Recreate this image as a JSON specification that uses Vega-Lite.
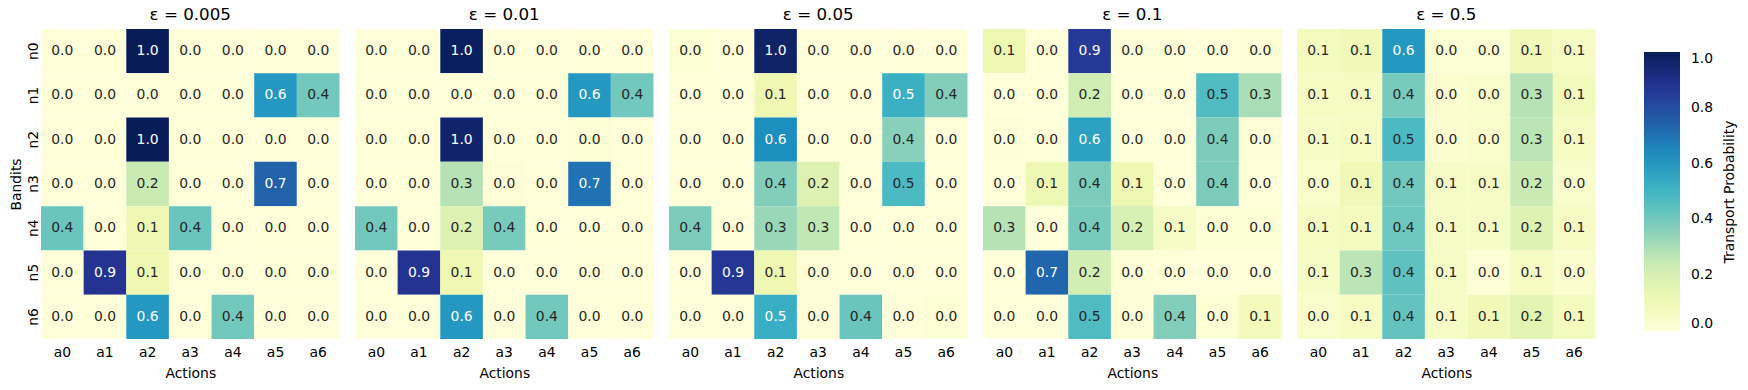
{
"$schema": "https://vega.github.io/schema/vega-lite/v6.json",
"background": "white",
"padding": {"left": 9, "top": 7, "right": 5, "bottom": 5},
"config": {"font": "DejaVu Sans", "view": {"stroke": null}},
"data": {"values": [
{"eps":"ε = 0.005","bandit":"n0","action":"a0","p":0},{"eps":"ε = 0.005","bandit":"n0","action":"a1","p":0},{"eps":"ε = 0.005","bandit":"n0","action":"a2","p":1.0},{"eps":"ε = 0.005","bandit":"n0","action":"a3","p":0},{"eps":"ε = 0.005","bandit":"n0","action":"a4","p":0},{"eps":"ε = 0.005","bandit":"n0","action":"a5","p":0},{"eps":"ε = 0.005","bandit":"n0","action":"a6","p":0},
{"eps":"ε = 0.005","bandit":"n1","action":"a0","p":0},{"eps":"ε = 0.005","bandit":"n1","action":"a1","p":0},{"eps":"ε = 0.005","bandit":"n1","action":"a2","p":0},{"eps":"ε = 0.005","bandit":"n1","action":"a3","p":0},{"eps":"ε = 0.005","bandit":"n1","action":"a4","p":0},{"eps":"ε = 0.005","bandit":"n1","action":"a5","p":0.6},{"eps":"ε = 0.005","bandit":"n1","action":"a6","p":0.4},
{"eps":"ε = 0.005","bandit":"n2","action":"a0","p":0},{"eps":"ε = 0.005","bandit":"n2","action":"a1","p":0},{"eps":"ε = 0.005","bandit":"n2","action":"a2","p":1.0},{"eps":"ε = 0.005","bandit":"n2","action":"a3","p":0},{"eps":"ε = 0.005","bandit":"n2","action":"a4","p":0},{"eps":"ε = 0.005","bandit":"n2","action":"a5","p":0},{"eps":"ε = 0.005","bandit":"n2","action":"a6","p":0},
{"eps":"ε = 0.005","bandit":"n3","action":"a0","p":0},{"eps":"ε = 0.005","bandit":"n3","action":"a1","p":0},{"eps":"ε = 0.005","bandit":"n3","action":"a2","p":0.24},{"eps":"ε = 0.005","bandit":"n3","action":"a3","p":0},{"eps":"ε = 0.005","bandit":"n3","action":"a4","p":0},{"eps":"ε = 0.005","bandit":"n3","action":"a5","p":0.74},{"eps":"ε = 0.005","bandit":"n3","action":"a6","p":0},
{"eps":"ε = 0.005","bandit":"n4","action":"a0","p":0.42},{"eps":"ε = 0.005","bandit":"n4","action":"a1","p":0},{"eps":"ε = 0.005","bandit":"n4","action":"a2","p":0.12},{"eps":"ε = 0.005","bandit":"n4","action":"a3","p":0.42},{"eps":"ε = 0.005","bandit":"n4","action":"a4","p":0},{"eps":"ε = 0.005","bandit":"n4","action":"a5","p":0},{"eps":"ε = 0.005","bandit":"n4","action":"a6","p":0},
{"eps":"ε = 0.005","bandit":"n5","action":"a0","p":0},{"eps":"ε = 0.005","bandit":"n5","action":"a1","p":0.88},{"eps":"ε = 0.005","bandit":"n5","action":"a2","p":0.12},{"eps":"ε = 0.005","bandit":"n5","action":"a3","p":0},{"eps":"ε = 0.005","bandit":"n5","action":"a4","p":0},{"eps":"ε = 0.005","bandit":"n5","action":"a5","p":0},{"eps":"ε = 0.005","bandit":"n5","action":"a6","p":0},
{"eps":"ε = 0.005","bandit":"n6","action":"a0","p":0},{"eps":"ε = 0.005","bandit":"n6","action":"a1","p":0},{"eps":"ε = 0.005","bandit":"n6","action":"a2","p":0.6},{"eps":"ε = 0.005","bandit":"n6","action":"a3","p":0},{"eps":"ε = 0.005","bandit":"n6","action":"a4","p":0.4},{"eps":"ε = 0.005","bandit":"n6","action":"a5","p":0},{"eps":"ε = 0.005","bandit":"n6","action":"a6","p":0},

{"eps":"ε = 0.01","bandit":"n0","action":"a0","p":0},{"eps":"ε = 0.01","bandit":"n0","action":"a1","p":0},{"eps":"ε = 0.01","bandit":"n0","action":"a2","p":0.99},{"eps":"ε = 0.01","bandit":"n0","action":"a3","p":0},{"eps":"ε = 0.01","bandit":"n0","action":"a4","p":0},{"eps":"ε = 0.01","bandit":"n0","action":"a5","p":0},{"eps":"ε = 0.01","bandit":"n0","action":"a6","p":0},
{"eps":"ε = 0.01","bandit":"n1","action":"a0","p":0},{"eps":"ε = 0.01","bandit":"n1","action":"a1","p":0},{"eps":"ε = 0.01","bandit":"n1","action":"a2","p":0},{"eps":"ε = 0.01","bandit":"n1","action":"a3","p":0},{"eps":"ε = 0.01","bandit":"n1","action":"a4","p":0},{"eps":"ε = 0.01","bandit":"n1","action":"a5","p":0.6},{"eps":"ε = 0.01","bandit":"n1","action":"a6","p":0.4},
{"eps":"ε = 0.01","bandit":"n2","action":"a0","p":0},{"eps":"ε = 0.01","bandit":"n2","action":"a1","p":0},{"eps":"ε = 0.01","bandit":"n2","action":"a2","p":0.96},{"eps":"ε = 0.01","bandit":"n2","action":"a3","p":0},{"eps":"ε = 0.01","bandit":"n2","action":"a4","p":0},{"eps":"ε = 0.01","bandit":"n2","action":"a5","p":0.02},{"eps":"ε = 0.01","bandit":"n2","action":"a6","p":0},
{"eps":"ε = 0.01","bandit":"n3","action":"a0","p":0},{"eps":"ε = 0.01","bandit":"n3","action":"a1","p":0},{"eps":"ε = 0.01","bandit":"n3","action":"a2","p":0.28},{"eps":"ε = 0.01","bandit":"n3","action":"a3","p":0.01},{"eps":"ε = 0.01","bandit":"n3","action":"a4","p":0},{"eps":"ε = 0.01","bandit":"n3","action":"a5","p":0.7},{"eps":"ε = 0.01","bandit":"n3","action":"a6","p":0},
{"eps":"ε = 0.01","bandit":"n4","action":"a0","p":0.4},{"eps":"ε = 0.01","bandit":"n4","action":"a1","p":0},{"eps":"ε = 0.01","bandit":"n4","action":"a2","p":0.18},{"eps":"ε = 0.01","bandit":"n4","action":"a3","p":0.39},{"eps":"ε = 0.01","bandit":"n4","action":"a4","p":0},{"eps":"ε = 0.01","bandit":"n4","action":"a5","p":0},{"eps":"ε = 0.01","bandit":"n4","action":"a6","p":0},
{"eps":"ε = 0.01","bandit":"n5","action":"a0","p":0},{"eps":"ε = 0.01","bandit":"n5","action":"a1","p":0.88},{"eps":"ε = 0.01","bandit":"n5","action":"a2","p":0.12},{"eps":"ε = 0.01","bandit":"n5","action":"a3","p":0},{"eps":"ε = 0.01","bandit":"n5","action":"a4","p":0},{"eps":"ε = 0.01","bandit":"n5","action":"a5","p":0},{"eps":"ε = 0.01","bandit":"n5","action":"a6","p":0},
{"eps":"ε = 0.01","bandit":"n6","action":"a0","p":0},{"eps":"ε = 0.01","bandit":"n6","action":"a1","p":0},{"eps":"ε = 0.01","bandit":"n6","action":"a2","p":0.6},{"eps":"ε = 0.01","bandit":"n6","action":"a3","p":0},{"eps":"ε = 0.01","bandit":"n6","action":"a4","p":0.4},{"eps":"ε = 0.01","bandit":"n6","action":"a5","p":0},{"eps":"ε = 0.01","bandit":"n6","action":"a6","p":0},

{"eps":"ε = 0.05","bandit":"n0","action":"a0","p":0.02},{"eps":"ε = 0.05","bandit":"n0","action":"a1","p":0},{"eps":"ε = 0.05","bandit":"n0","action":"a2","p":0.97},{"eps":"ε = 0.05","bandit":"n0","action":"a3","p":0},{"eps":"ε = 0.05","bandit":"n0","action":"a4","p":0},{"eps":"ε = 0.05","bandit":"n0","action":"a5","p":0},{"eps":"ε = 0.05","bandit":"n0","action":"a6","p":0},
{"eps":"ε = 0.05","bandit":"n1","action":"a0","p":0},{"eps":"ε = 0.05","bandit":"n1","action":"a1","p":0},{"eps":"ε = 0.05","bandit":"n1","action":"a2","p":0.12},{"eps":"ε = 0.05","bandit":"n1","action":"a3","p":0},{"eps":"ε = 0.05","bandit":"n1","action":"a4","p":0},{"eps":"ε = 0.05","bandit":"n1","action":"a5","p":0.52},{"eps":"ε = 0.05","bandit":"n1","action":"a6","p":0.37},
{"eps":"ε = 0.05","bandit":"n2","action":"a0","p":0},{"eps":"ε = 0.05","bandit":"n2","action":"a1","p":0},{"eps":"ε = 0.05","bandit":"n2","action":"a2","p":0.63},{"eps":"ε = 0.05","bandit":"n2","action":"a3","p":0},{"eps":"ε = 0.05","bandit":"n2","action":"a4","p":0},{"eps":"ε = 0.05","bandit":"n2","action":"a5","p":0.36},{"eps":"ε = 0.05","bandit":"n2","action":"a6","p":0},
{"eps":"ε = 0.05","bandit":"n3","action":"a0","p":0},{"eps":"ε = 0.05","bandit":"n3","action":"a1","p":0},{"eps":"ε = 0.05","bandit":"n3","action":"a2","p":0.37},{"eps":"ε = 0.05","bandit":"n3","action":"a3","p":0.18},{"eps":"ε = 0.05","bandit":"n3","action":"a4","p":0},{"eps":"ε = 0.05","bandit":"n3","action":"a5","p":0.48},{"eps":"ε = 0.05","bandit":"n3","action":"a6","p":0},
{"eps":"ε = 0.05","bandit":"n4","action":"a0","p":0.38},{"eps":"ε = 0.05","bandit":"n4","action":"a1","p":0},{"eps":"ε = 0.05","bandit":"n4","action":"a2","p":0.33},{"eps":"ε = 0.05","bandit":"n4","action":"a3","p":0.26},{"eps":"ε = 0.05","bandit":"n4","action":"a4","p":0},{"eps":"ε = 0.05","bandit":"n4","action":"a5","p":0},{"eps":"ε = 0.05","bandit":"n4","action":"a6","p":0},
{"eps":"ε = 0.05","bandit":"n5","action":"a0","p":0},{"eps":"ε = 0.05","bandit":"n5","action":"a1","p":0.87},{"eps":"ε = 0.05","bandit":"n5","action":"a2","p":0.12},{"eps":"ε = 0.05","bandit":"n5","action":"a3","p":0.01},{"eps":"ε = 0.05","bandit":"n5","action":"a4","p":0},{"eps":"ε = 0.05","bandit":"n5","action":"a5","p":0},{"eps":"ε = 0.05","bandit":"n5","action":"a6","p":0},
{"eps":"ε = 0.05","bandit":"n6","action":"a0","p":0},{"eps":"ε = 0.05","bandit":"n6","action":"a1","p":0},{"eps":"ε = 0.05","bandit":"n6","action":"a2","p":0.53},{"eps":"ε = 0.05","bandit":"n6","action":"a3","p":0.01},{"eps":"ε = 0.05","bandit":"n6","action":"a4","p":0.42},{"eps":"ε = 0.05","bandit":"n6","action":"a5","p":0},{"eps":"ε = 0.05","bandit":"n6","action":"a6","p":0.02},

{"eps":"ε = 0.1","bandit":"n0","action":"a0","p":0.12},{"eps":"ε = 0.1","bandit":"n0","action":"a1","p":0},{"eps":"ε = 0.1","bandit":"n0","action":"a2","p":0.86},{"eps":"ε = 0.1","bandit":"n0","action":"a3","p":0},{"eps":"ε = 0.1","bandit":"n0","action":"a4","p":0},{"eps":"ε = 0.1","bandit":"n0","action":"a5","p":0},{"eps":"ε = 0.1","bandit":"n0","action":"a6","p":0.01},
{"eps":"ε = 0.1","bandit":"n1","action":"a0","p":0},{"eps":"ε = 0.1","bandit":"n1","action":"a1","p":0},{"eps":"ε = 0.1","bandit":"n1","action":"a2","p":0.22},{"eps":"ε = 0.1","bandit":"n1","action":"a3","p":0},{"eps":"ε = 0.1","bandit":"n1","action":"a4","p":0},{"eps":"ε = 0.1","bandit":"n1","action":"a5","p":0.47},{"eps":"ε = 0.1","bandit":"n1","action":"a6","p":0.3},
{"eps":"ε = 0.1","bandit":"n2","action":"a0","p":0.01},{"eps":"ε = 0.1","bandit":"n2","action":"a1","p":0},{"eps":"ε = 0.1","bandit":"n2","action":"a2","p":0.57},{"eps":"ε = 0.1","bandit":"n2","action":"a3","p":0},{"eps":"ε = 0.1","bandit":"n2","action":"a4","p":0},{"eps":"ε = 0.1","bandit":"n2","action":"a5","p":0.38},{"eps":"ε = 0.1","bandit":"n2","action":"a6","p":0.01},
{"eps":"ε = 0.1","bandit":"n3","action":"a0","p":0},{"eps":"ε = 0.1","bandit":"n3","action":"a1","p":0.11},{"eps":"ε = 0.1","bandit":"n3","action":"a2","p":0.38},{"eps":"ε = 0.1","bandit":"n3","action":"a3","p":0.12},{"eps":"ε = 0.1","bandit":"n3","action":"a4","p":0},{"eps":"ε = 0.1","bandit":"n3","action":"a5","p":0.38},{"eps":"ε = 0.1","bandit":"n3","action":"a6","p":0},
{"eps":"ε = 0.1","bandit":"n4","action":"a0","p":0.28},{"eps":"ε = 0.1","bandit":"n4","action":"a1","p":0},{"eps":"ε = 0.1","bandit":"n4","action":"a2","p":0.39},{"eps":"ε = 0.1","bandit":"n4","action":"a3","p":0.2},{"eps":"ε = 0.1","bandit":"n4","action":"a4","p":0.06},{"eps":"ε = 0.1","bandit":"n4","action":"a5","p":0.02},{"eps":"ε = 0.1","bandit":"n4","action":"a6","p":0.02},
{"eps":"ε = 0.1","bandit":"n5","action":"a0","p":0},{"eps":"ε = 0.1","bandit":"n5","action":"a1","p":0.73},{"eps":"ε = 0.1","bandit":"n5","action":"a2","p":0.21},{"eps":"ε = 0.1","bandit":"n5","action":"a3","p":0.01},{"eps":"ε = 0.1","bandit":"n5","action":"a4","p":0},{"eps":"ε = 0.1","bandit":"n5","action":"a5","p":0},{"eps":"ε = 0.1","bandit":"n5","action":"a6","p":0},
{"eps":"ε = 0.1","bandit":"n6","action":"a0","p":0},{"eps":"ε = 0.1","bandit":"n6","action":"a1","p":0},{"eps":"ε = 0.1","bandit":"n6","action":"a2","p":0.47},{"eps":"ε = 0.1","bandit":"n6","action":"a3","p":0.01},{"eps":"ε = 0.1","bandit":"n6","action":"a4","p":0.37},{"eps":"ε = 0.1","bandit":"n6","action":"a5","p":0.02},{"eps":"ε = 0.1","bandit":"n6","action":"a6","p":0.09},

{"eps":"ε = 0.5","bandit":"n0","action":"a0","p":0.08},{"eps":"ε = 0.5","bandit":"n0","action":"a1","p":0.1},{"eps":"ε = 0.5","bandit":"n0","action":"a2","p":0.6},{"eps":"ε = 0.5","bandit":"n0","action":"a3","p":0.02},{"eps":"ε = 0.5","bandit":"n0","action":"a4","p":0.02},{"eps":"ε = 0.5","bandit":"n0","action":"a5","p":0.1},{"eps":"ε = 0.5","bandit":"n0","action":"a6","p":0.07},
{"eps":"ε = 0.5","bandit":"n1","action":"a0","p":0.07},{"eps":"ε = 0.5","bandit":"n1","action":"a1","p":0.07},{"eps":"ε = 0.5","bandit":"n1","action":"a2","p":0.39},{"eps":"ε = 0.5","bandit":"n1","action":"a3","p":0.03},{"eps":"ε = 0.5","bandit":"n1","action":"a4","p":0.04},{"eps":"ε = 0.5","bandit":"n1","action":"a5","p":0.28},{"eps":"ε = 0.5","bandit":"n1","action":"a6","p":0.09},
{"eps":"ε = 0.5","bandit":"n2","action":"a0","p":0.06},{"eps":"ε = 0.5","bandit":"n2","action":"a1","p":0.07},{"eps":"ε = 0.5","bandit":"n2","action":"a2","p":0.48},{"eps":"ε = 0.5","bandit":"n2","action":"a3","p":0.03},{"eps":"ε = 0.5","bandit":"n2","action":"a4","p":0.04},{"eps":"ε = 0.5","bandit":"n2","action":"a5","p":0.27},{"eps":"ε = 0.5","bandit":"n2","action":"a6","p":0.07},
{"eps":"ε = 0.5","bandit":"n3","action":"a0","p":0.04},{"eps":"ε = 0.5","bandit":"n3","action":"a1","p":0.1},{"eps":"ε = 0.5","bandit":"n3","action":"a2","p":0.4},{"eps":"ε = 0.5","bandit":"n3","action":"a3","p":0.06},{"eps":"ε = 0.5","bandit":"n3","action":"a4","p":0.06},{"eps":"ε = 0.5","bandit":"n3","action":"a5","p":0.24},{"eps":"ε = 0.5","bandit":"n3","action":"a6","p":0.04},
{"eps":"ε = 0.5","bandit":"n4","action":"a0","p":0.07},{"eps":"ε = 0.5","bandit":"n4","action":"a1","p":0.08},{"eps":"ε = 0.5","bandit":"n4","action":"a2","p":0.41},{"eps":"ε = 0.5","bandit":"n4","action":"a3","p":0.06},{"eps":"ε = 0.5","bandit":"n4","action":"a4","p":0.06},{"eps":"ε = 0.5","bandit":"n4","action":"a5","p":0.18},{"eps":"ε = 0.5","bandit":"n4","action":"a6","p":0.07},
{"eps":"ε = 0.5","bandit":"n5","action":"a0","p":0.06},{"eps":"ε = 0.5","bandit":"n5","action":"a1","p":0.27},{"eps":"ε = 0.5","bandit":"n5","action":"a2","p":0.44},{"eps":"ε = 0.5","bandit":"n5","action":"a3","p":0.06},{"eps":"ε = 0.5","bandit":"n5","action":"a4","p":0.01},{"eps":"ε = 0.5","bandit":"n5","action":"a5","p":0.07},{"eps":"ε = 0.5","bandit":"n5","action":"a6","p":0.03},
{"eps":"ε = 0.5","bandit":"n6","action":"a0","p":0.04},{"eps":"ε = 0.5","bandit":"n6","action":"a1","p":0.07},{"eps":"ε = 0.5","bandit":"n6","action":"a2","p":0.43},{"eps":"ε = 0.5","bandit":"n6","action":"a3","p":0.06},{"eps":"ε = 0.5","bandit":"n6","action":"a4","p":0.1},{"eps":"ε = 0.5","bandit":"n6","action":"a5","p":0.16},{"eps":"ε = 0.5","bandit":"n6","action":"a6","p":0.08}
]},
"facet": {"column": {"field": "eps", "type": "nominal", "sort": ["ε = 0.005","ε = 0.01","ε = 0.05","ε = 0.1","ε = 0.5"],
  "header": {"title": null, "labelFontSize": 16.7, "labelColor": "black", "labelPadding": 5, "labelFont": "DejaVu Sans"}}},
"spacing": 15,
"spec": {
  "width": 298.5,
  "height": 310,
  "encoding": {
    "x": {"field": "action", "type": "nominal", "title": "Actions",
      "axis": {"labelAngle": 0, "ticks": false, "domain": false, "labelFontSize": 13.9, "labelColor": "black", "labelPadding": 6, "titleFontSize": 13.9, "titleFontWeight": "normal", "titleColor": "black", "titlePadding": 8}},
    "y": {"field": "bandit", "type": "nominal", "title": "Bandits",
      "axis": {"labelAngle": 270, "ticks": false, "domain": false, "labelFontSize": 13.9, "labelColor": "black", "labelPadding": 1, "titleFontSize": 13.9, "titleFontWeight": "normal", "titleColor": "black", "titlePadding": 3}}
  },
  "layer": [
    {"mark": {"type": "rect"},
     "encoding": {"color": {"field": "p", "type": "quantitative", "title": "Transport Probability",
        "scale": {"domain": [0, 0.125, 0.25, 0.375, 0.5, 0.625, 0.75, 0.875, 1], "range": ["#ffffd9","#edf8b1","#c7e9b4","#7fcdbb","#41b6c4","#1d91c0","#225ea8","#253494","#081d58"], "interpolate": "rgb"},
        "legend": {"orient": "none", "legendX": 1603, "legendY": 23, "gradientLength": 279, "gradientThickness": 36, "values": [0, 0.2, 0.4, 0.6, 0.8, 1.0], "format": ".1f", "labelFontSize": 13.9, "labelColor": "black", "labelOffset": 11, "titleOrient": "right", "titlePadding": 10, "titleFontSize": 13.9, "titleFontWeight": "normal", "titleColor": "black", "gradientStrokeWidth": 0, "direction": "vertical",
          "encode": {"title": {"update": {"angle": {"value": 270}, "baseline": {"value": "top"}}}}}}}},
    {"mark": {"type": "text", "fontSize": 13.9},
     "encoding": {"text": {"field": "p", "type": "quantitative", "format": ".1f"},
       "color": {"condition": {"test": "datum.p > 0.5", "value": "white"}, "value": "#262626"}}}
  ]
}
}
